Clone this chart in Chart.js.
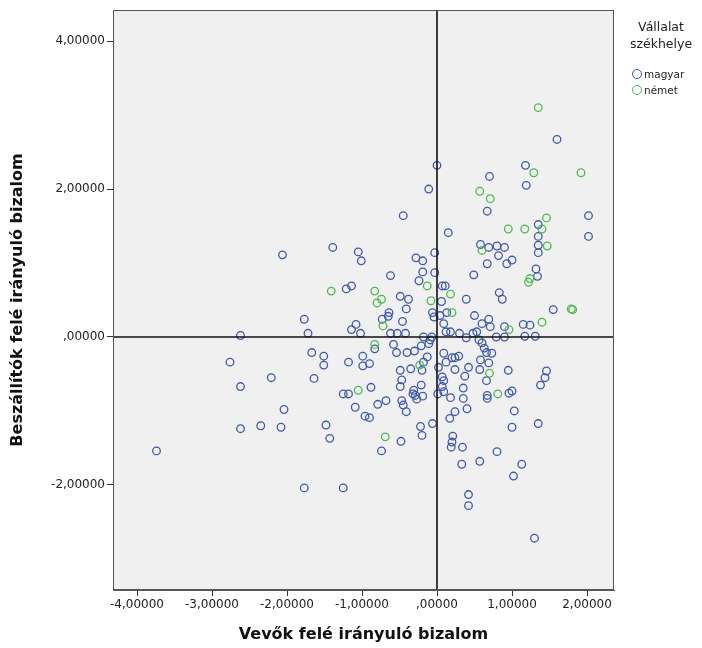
<!DOCTYPE html>
<html>
<head>
<meta charset="utf-8">
<script src="https://cdn.jsdelivr.net/npm/chart.js@4.4.1/dist/chart.umd.min.js"></script>
<style>
  body { margin: 0; background: #fff; }
  #wrap { position: relative; width: 702px; height: 648px; }
  #legend { position: absolute; left: 619px; top: 18px; width: 84px; font-family: "DejaVu Sans", sans-serif; color: #222; }
  #legend .title { text-align: center; font-size: 12.5px; line-height: 17px; }
  #legend .item { position: relative; font-size: 10.5px; height: 16px; line-height: 16px; padding-left: 25px; }
  #legend .dot { position: absolute; left: 13px; top: 3px; width: 8px; height: 8px; border: 1.4px solid; border-radius: 50%; }
</style>
</head>
<body>
<div id="wrap">
  <canvas id="chart" width="702" height="648"></canvas>
  <div id="legend">
    <div class="title">Vállalat<br>székhelye</div>
    <div style="height: 14px"></div>
    <div class="item"><span class="dot" style="border-color:#3e58ac"></span>magyar</div>
    <div class="item"><span class="dot" style="border-color:#4cbb4c"></span>német</div>
  </div>
</div>
<script>
const xTicks = [-4, -3, -2, -1, 0, 1, 2];
const yTicks = [-2, 0, 2, 4];

const blue = "#3e58ac";
const green = "#4cbb4c";

// Vállalat székhelye: magyar  [Vevők, Beszállítók]
const magyar = [
  [-2.06, 1.11], [-2.62, 0.02], [-2.76, -0.34], [-2.21, -0.55], [-2.62, -0.67],
  [-2.04, -0.98], [-2.62, -1.24], [-2.35, -1.20], [-2.08, -1.22], [-3.74, -1.54],
  [0.0, 2.32], [-0.11, 2.0], [-0.45, 1.64], [-1.39, 1.21], [-1.05, 1.15],
  [-1.01, 1.03], [-0.03, 1.14], [-0.28, 1.07], [-0.19, 1.03], [-0.19, 0.88],
  [-0.03, 0.87], [-0.24, 0.76], [-0.62, 0.83], [-1.21, 0.65], [-1.14, 0.69],
  [-0.49, 0.55], [-0.38, 0.51], [-0.41, 0.38], [-0.64, 0.33], [-0.65, 0.28],
  [-0.73, 0.24], [-0.46, 0.21], [-0.06, 0.33], [-0.04, 0.27], [-1.77, 0.24],
  [-1.72, 0.05], [-1.08, 0.17], [-1.14, 0.10], [-1.02, 0.05], [-0.62, 0.05],
  [-0.53, 0.05], [-0.42, 0.05], [-0.18, 0.0], [-0.07, 0.0],
  [-0.83, -0.16], [-0.58, -0.10], [-0.54, -0.21], [-0.40, -0.21], [-0.30, -0.19],
  [-0.21, -0.12], [-0.11, -0.09], [-0.09, -0.04], [-1.67, -0.21], [-1.51, -0.26],
  [-1.51, -0.38], [-1.18, -0.34], [-0.99, -0.26], [-0.99, -0.39], [-0.90, -0.36],
  [-1.64, -0.56], [-0.49, -0.45], [-0.35, -0.43], [-0.18, -0.34], [-0.13, -0.27],
  [-0.20, -0.45], [-0.47, -0.58], [-0.49, -0.67], [-0.31, -0.72], [-0.32, -0.77],
  [-0.29, -0.79], [-0.21, -0.65], [-0.19, -0.80], [-0.27, -0.84], [0.01, -0.77],
  [-1.25, -0.77], [-1.18, -0.77], [-0.88, -0.68], [-1.09, -0.95], [-0.96, -1.07],
  [-0.90, -1.09], [-0.79, -0.91], [-0.68, -0.86], [-0.47, -0.86], [-0.45, -0.92],
  [-0.41, -1.01], [-1.48, -1.19], [-1.43, -1.37], [-0.74, -1.54], [-0.48, -1.41],
  [-0.22, -1.21], [-0.20, -1.33], [-0.06, -1.17], [-1.77, -2.04], [-1.25, -2.04],
  [1.60, 2.67], [0.70, 2.17], [1.18, 2.32], [1.19, 2.05], [0.67, 1.70],
  [2.02, 1.64], [1.35, 1.52], [0.15, 1.41], [1.35, 1.36], [2.02, 1.36],
  [1.35, 1.24], [1.35, 1.14], [0.58, 1.25], [0.69, 1.21], [0.80, 1.23],
  [0.90, 1.21], [0.82, 1.10], [0.67, 0.99], [0.93, 0.99], [1.0, 1.04],
  [0.49, 0.84], [1.32, 0.92], [1.34, 0.82], [0.83, 0.60], [0.87, 0.51],
  [0.07, 0.69], [0.11, 0.69], [0.39, 0.51], [0.06, 0.48], [1.55, 0.37],
  [0.13, 0.33], [0.04, 0.29], [0.50, 0.29], [0.60, 0.18], [0.69, 0.24],
  [0.71, 0.14], [0.90, 0.14], [1.15, 0.17], [1.24, 0.16], [1.31, 0.01],
  [1.17, 0.01], [0.12, 0.07], [0.18, 0.07], [0.09, 0.18], [0.30, 0.05],
  [0.39, -0.01], [0.48, 0.05], [0.53, 0.07], [0.56, -0.04], [0.79, 0.0],
  [0.90, 0.0], [0.09, -0.22], [0.20, -0.28], [0.24, -0.28], [0.29, -0.26],
  [0.12, -0.34], [0.02, -0.41], [0.24, -0.44], [0.42, -0.41], [0.07, -0.54],
  [0.09, -0.59], [0.37, -0.53], [0.35, -0.69], [0.60, -0.08], [0.63, -0.15],
  [0.66, -0.21], [0.73, -0.22], [0.58, -0.31], [0.69, -0.35], [0.57, -0.44],
  [0.66, -0.59], [0.95, -0.45], [1.46, -0.46], [1.44, -0.55], [1.38, -0.65],
  [0.18, -0.82], [0.35, -0.83], [0.40, -0.97], [0.24, -1.01], [0.17, -1.10],
  [0.67, -0.83], [0.96, -0.76], [1.0, -0.73], [1.03, -1.0], [1.0, -1.22],
  [1.35, -1.17], [0.21, -1.34], [0.20, -1.42], [0.19, -1.49], [0.34, -1.49],
  [0.33, -1.72], [0.57, -1.68], [0.80, -1.55], [1.13, -1.72], [1.02, -1.88],
  [0.42, -2.13], [0.42, -2.28], [1.30, -2.72], [0.07, -0.67], [0.09, -0.74],
  [0.67, -0.79],
];

// Vállalat székhelye: német
const nemet = [
  [-0.13, 0.69], [-0.08, 0.49], [-1.41, 0.62], [-0.83, 0.62], [-0.74, 0.51],
  [-0.80, 0.46], [-0.72, 0.15], [-0.83, -0.10], [-0.23, -0.38], [-1.05, -0.72],
  [-0.69, -1.35], [1.35, 3.10], [1.29, 2.22], [1.92, 2.22], [0.57, 1.97],
  [0.71, 1.87], [1.46, 1.61], [1.40, 1.46], [0.95, 1.46], [1.17, 1.46],
  [1.47, 1.23], [0.60, 1.17], [1.24, 0.79], [1.22, 0.74], [0.18, 0.58],
  [1.81, 0.37], [1.79, 0.38], [1.40, 0.20], [0.96, 0.10], [0.20, 0.33],
  [0.70, -0.49], [0.81, -0.77],
];

function fmt(v) {
  if (v === 0) return ",00000";
  return v.toFixed(5).replace(".", ",");
}

const tickFont = { family: "DejaVu Sans", size: 12 };
const titleFont = { family: "DejaVu Sans", size: 16, weight: "bold" };

const plotFrame = {
  id: "plotFrame",
  beforeDatasetsDraw(chart) {
    const { ctx, chartArea: a } = chart;
    ctx.save();
    ctx.fillStyle = "#f0f0f0";
    ctx.fillRect(a.left, a.top, a.right - a.left, a.bottom - a.top);
    ctx.restore();
  },
  afterDatasetsDraw(chart) {
    const { ctx, chartArea: a, scales } = chart;
    const x0 = scales.x.getPixelForValue(0);
    const y0 = scales.y.getPixelForValue(0);
    ctx.save();
    ctx.strokeStyle = "#111";
    ctx.lineWidth = 1.6;
    ctx.beginPath();
    ctx.moveTo(x0, a.top);
    ctx.lineTo(x0, a.bottom);
    ctx.moveTo(a.left, y0);
    ctx.lineTo(a.right, y0);
    ctx.stroke();
    ctx.strokeStyle = "#555";
    ctx.lineWidth = 1;
    ctx.strokeRect(a.left + 0.5, a.top + 0.5, a.right - a.left - 1, a.bottom - a.top - 1);
    ctx.restore();
  },
};

new Chart(document.getElementById("chart"), {
  type: "scatter",
  data: {
    datasets: [
      {
        label: "német",
        data: nemet.map(([x, y]) => ({ x, y })),
        borderColor: green,
        backgroundColor: "rgba(0,0,0,0)",
        borderWidth: 1.3,
        pointRadius: 3.8,
      },
      {
        label: "magyar",
        data: magyar.map(([x, y]) => ({ x, y })),
        borderColor: blue,
        backgroundColor: "rgba(0,0,0,0)",
        borderWidth: 1.3,
        pointRadius: 3.8,
      },
    ],
  },
  options: {
    responsive: false,
    animation: false,
    layout: { padding: { top: 10, right: 88, left: 0, bottom: 0 } },
    plugins: { legend: { display: false }, tooltip: { enabled: false } },
    scales: {
      x: {
        type: "linear",
        min: -4.32,
        max: 2.36,
        afterBuildTicks: (s) => { s.ticks = xTicks.map((v) => ({ value: v })); },
        afterFit: (s) => { s.height = 58; },
        ticks: { callback: fmt, font: tickFont, color: "#222", padding: 2, maxRotation: 0, autoSkip: false },
        grid: { drawOnChartArea: false, tickLength: 6, color: "#333" },
        border: { color: "#555" },
        title: { display: true, text: "Vevők felé irányuló bizalom", font: titleFont, color: "#111", padding: { top: 0, bottom: 4 } },
      },
      y: {
        type: "linear",
        min: -3.42,
        max: 4.42,
        afterBuildTicks: (s) => { s.ticks = yTicks.map((v) => ({ value: v })); },
        afterFit: (s) => { s.width = 113; },
        ticks: { callback: fmt, font: tickFont, color: "#222", padding: 2, autoSkip: false },
        grid: { drawOnChartArea: false, tickLength: 6, color: "#333" },
        border: { color: "#555" },
        title: { display: true, text: "Beszállítók felé irányuló bizalom", font: titleFont, color: "#111", padding: { top: 8, bottom: 0 } },
      },
    },
  },
  plugins: [plotFrame],
});
</script>
</body>
</html>
